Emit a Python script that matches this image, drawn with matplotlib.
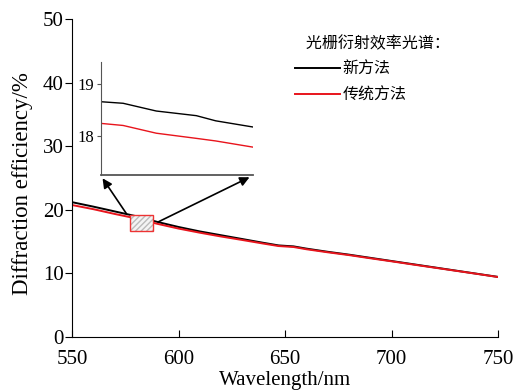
import matplotlib.pyplot as plt
from matplotlib.patches import Rectangle

# main spectra
wl = [550, 560, 570, 580, 590, 600, 610, 620, 630, 640, 647, 654,
      660, 670, 680, 690, 700, 710, 720, 730, 740, 750]
eff_new = [21.2, 20.5, 19.75, 19.0, 18.1, 17.3, 16.6, 16.0, 15.4, 14.8, 14.4, 14.25,
           13.9, 13.4, 12.95, 12.45, 11.95, 11.45, 10.95, 10.45, 9.95, 9.45]
eff_old = [20.75, 20.1, 19.35, 18.65, 17.8, 17.05, 16.4, 15.8, 15.25, 14.68, 14.3, 14.15,
           13.8, 13.32, 12.88, 12.38, 11.9, 11.4, 10.91, 10.42, 9.93, 9.43]

# zoomed part shown in the inset
inset_wl = [577.0, 578.6, 581.0, 583.9, 585.3, 588.0]
inset_new = [18.66, 18.63, 18.48, 18.39, 18.29, 18.17]
inset_old = [18.24, 18.20, 18.05, 17.95, 17.90, 17.78]

legend_title = '光栅衍射效率光谱：'
labels = ['新方法', '传统方法']

plt.rcParams['font.family'] = ['Liberation Serif', 'Noto Sans CJK SC']

fig = plt.figure(figsize=(5.21, 3.90), dpi=100)
ax = fig.add_axes([72/521, 1-337/390, 426/521, 318/390])

ax.plot(wl, eff_new, color='black', lw=1.4, label=labels[0])
ax.plot(wl, eff_old, color='#e8141c', lw=1.4, label=labels[1])
ax.set_xlim(550, 750)
ax.set_ylim(0, 50)
ax.set_xticks([550, 600, 650, 700, 750])
ax.set_yticks([0, 10, 20, 30, 40, 50])
ax.spines['top'].set_visible(False)
ax.spines['right'].set_visible(False)
ax.tick_params(axis='y', direction='out', length=5, labelsize=15, pad=1)
ax.tick_params(axis='x', direction='in', length=5, labelsize=15, pad=9)
ax.set_xlabel('Wavelength/nm', fontsize=15, labelpad=2)
ax.set_ylabel('Diffraction efficiency/%', fontsize=16.5)
ax.yaxis.set_label_coords(-0.092, 0.481)

# zoom box: grey hatch with red outline
ax.add_patch(Rectangle((577.2, 16.7), 10.8, 2.45, facecolor='#f4f4f4',
                       edgecolor='#bbbbbb', lw=0, hatch='//////', zorder=3))
ax.add_patch(Rectangle((577.2, 16.7), 10.8, 2.45, facecolor='none',
                       edgecolor='#ee3333', lw=1.0, zorder=4))

# inset
ins = fig.add_axes([101/521, 1-175/390, 152/521, 113/390])
ins.plot(inset_wl, inset_new, color='black', lw=1.0)
ins.plot(inset_wl, inset_old, color='#e8141c', lw=1.0)
ins.set_xlim(577.0, 588.0)
ins.set_ylim(17.24, 19.43)
ins.set_yticks([18, 19])
ins.set_xticks([])
ins.spines['top'].set_visible(False)
ins.spines['right'].set_visible(False)
ins.spines['left'].set_color('#555555')
ins.spines['bottom'].set_color('#555555')
ins.spines['bottom'].set_linewidth(1.3)
ins.tick_params(axis='y', direction='out', length=3, labelsize=12, pad=2, color='#555555')
ins.patch.set_alpha(0)

# arrows from the box to the inset corners
ax.annotate('', xy=(101, 390-176), xycoords='figure pixels',
            xytext=(128, 390-216), textcoords='figure pixels',
            arrowprops=dict(arrowstyle='-|>', color='black', lw=1.2, mutation_scale=14))
ax.annotate('', xy=(252, 390-176), xycoords='figure pixels',
            xytext=(156, 390-223), textcoords='figure pixels',
            arrowprops=dict(arrowstyle='-|>', color='black', lw=1.2, mutation_scale=14))

leg = ax.legend(loc='upper left', bbox_to_anchor=(0.49, 0.995), frameon=False,
                title='   ' + legend_title, fontsize=11.5, title_fontproperties={'size': 11.5},
                handlelength=2.8, handletextpad=0.15, labelspacing=0.55)
leg._legend_box.align = 'left'
for t in leg.get_texts():
    t.set_family('Noto Sans CJK SC')
leg.get_title().set_family('Noto Sans CJK SC')

fig.savefig('out.png', dpi=100)
